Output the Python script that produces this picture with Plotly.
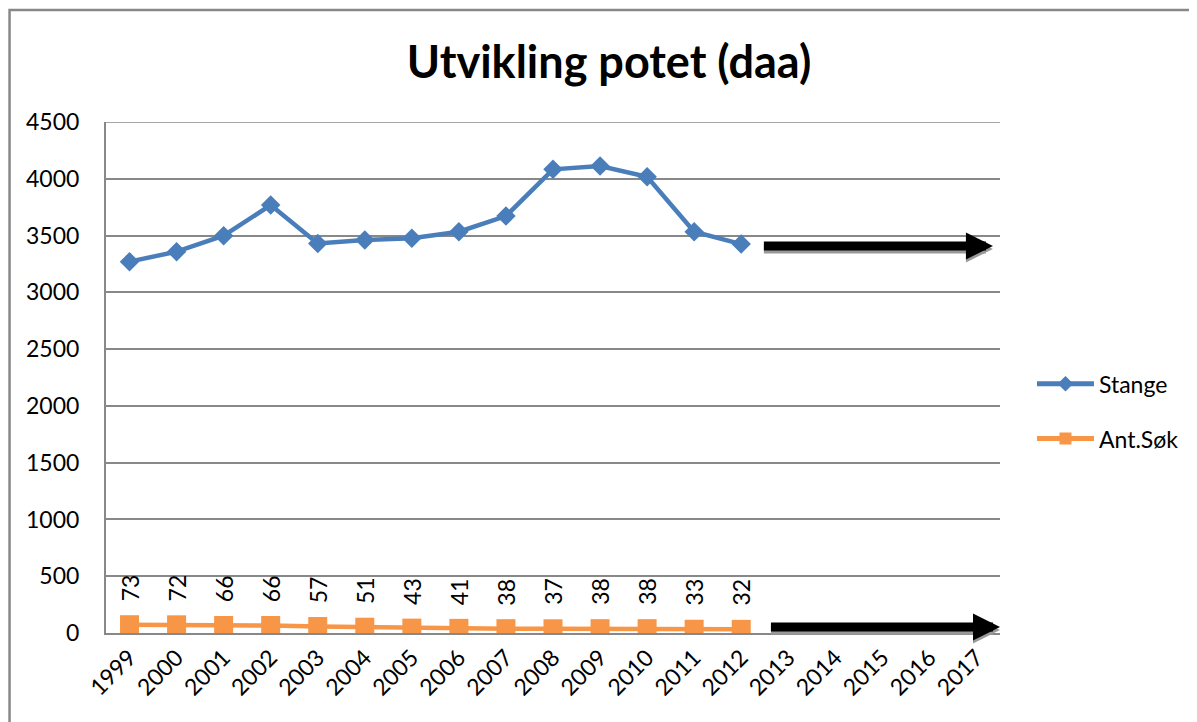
import plotly.graph_objects as go

years = [str(y) for y in range(1999, 2018)]
data_years = [str(y) for y in range(1999, 2013)]
stange = [3270, 3358, 3499, 3768, 3431, 3461, 3476, 3534, 3672, 4083, 4112, 4018, 3534, 3425]
ant_sok = [73, 72, 66, 66, 57, 51, 43, 41, 38, 37, 38, 38, 33, 32]
y_ticks = [0, 500, 1000, 1500, 2000, 2500, 3000, 3500, 4000, 4500]

FONT = "Lato"
BLUE = "#4A7EBB"
ORANGE = "#F79646"
GRID = "#888888"

# page body has an 8px margin -> figure is drawn offset by 8px
W, H = 1189, 714
L, T, R, B = 97.5, 114, 197, 89

fig = go.Figure()
fig.add_trace(go.Scatter(
    x=data_years, y=stange, name="Stange", mode="lines+markers", legendgroup="a",
    line=dict(color=BLUE, width=4.5),
    marker=dict(symbol="diamond", size=15, color=BLUE),
))
fig.add_trace(go.Scatter(
    x=data_years, y=ant_sok, name="Ant.Søk", mode="lines+markers", legendgroup="b",
    line=dict(color=ORANGE, width=4.5),
    marker=dict(symbol="square", size=19, color=ORANGE),
))

annotations = []
for i, v in enumerate(ant_sok):
    annotations.append(dict(
        x=i, y=v, xref="x", yref="y", text=str(v), showarrow=False,
        textangle=-90, xanchor="center", yanchor="middle", yshift=37,
        font=dict(family=FONT, size=23, color="black"),
    ))

# trend arrows (grey shadow then black arrow)
for tail, tip, yv in [(13.45, 18.35, 3408), (13.6, 18.5, 53)]:
    for col, shift in [("#999999", -3), ("black", 0)]:
        annotations.append(dict(
            x=tip, y=yv, ax=tail, ay=yv, xref="x", yref="y", axref="x", ayref="y",
            text="", showarrow=True, arrowhead=2, arrowsize=0.6, arrowwidth=9,
            arrowcolor=col, standoff=0, yshift=shift,
        ))

fig.update_layout(
    width=W, height=H,
    margin=dict(l=L, r=R, t=T, b=B),
    paper_bgcolor="white", plot_bgcolor="white",
    font=dict(family=FONT, size=23, color="black"),
    title=dict(text="<b>Utvikling potet (daa)</b>", x=(609 - 8) / W, xanchor="center",
               y=1 - (62 - 8) / H, yanchor="middle",
               font=dict(family=FONT, size=45, color="black")),
    showlegend=True,
    legend=dict(x=(1032 - 105.5) / 894.5, xanchor="left", y=0.434, yanchor="middle",
                font=dict(family=FONT, size=23, color="black"),
                traceorder="grouped", tracegroupgap=22, itemwidth=57,
                itemsizing="constant", bgcolor="rgba(0,0,0,0)"),
    annotations=annotations,
    shapes=[dict(type="rect", xref="paper", yref="paper",
                 x0=(9 - 105.5) / 894.5, x1=(1210 - 105.5) / 894.5,
                 y0=(633 - 740) / 511, y1=(633 - 10) / 511,
                 line=dict(color="#888888", width=2.5), layer="below")],
)
fig.update_xaxes(
    type="category", categoryorder="array", categoryarray=years,
    tickvals=years, ticktext=years,
    range=[-0.5, 18.5], tickangle=-45, showgrid=False,
    showline=True, linecolor=GRID, linewidth=2, ticks="",
    tickfont=dict(family=FONT, size=23), zeroline=False,
)
fig.update_yaxes(
    range=[0, 4500], tickvals=y_ticks, showgrid=True, gridcolor=GRID, gridwidth=1.5,
    showline=True, linecolor=GRID, linewidth=2, ticks="", zeroline=False,
    tickfont=dict(family=FONT, size=23), ticklabelstandoff=20, mirror=False,
)
fig.add_shape(type="line", xref="paper", yref="y", x0=0, x1=1, y0=4500, y1=4500,
              line=dict(color=GRID, width=1.5), layer="below")

fig.write_html("out.html")
